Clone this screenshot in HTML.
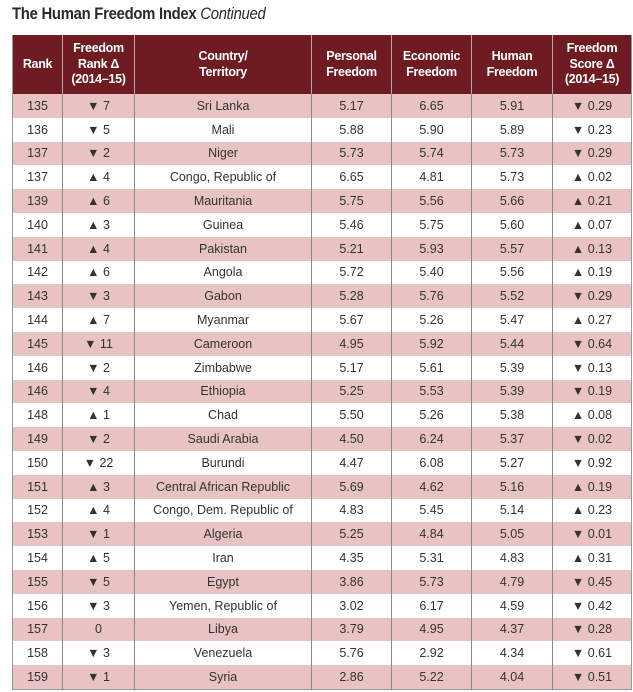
<!DOCTYPE html>
<html><head><style>
body{margin:0;background:#fff;width:633px;height:692px;overflow:hidden;font-family:"Liberation Sans",Arial,sans-serif;}
h1{position:absolute;left:12px;top:5px;margin:0;font-size:16.5px;font-weight:bold;color:#2a2a2a;letter-spacing:-0.3px;transform:scaleX(0.9);transform-origin:left}
h1 i{font-weight:normal}
table{position:absolute;left:12px;top:35px;border-collapse:collapse;table-layout:fixed;width:619px;font-size:12.5px;color:#333}
th{background:#6e1c22;color:#fff;font-weight:bold;height:59px;padding:0;font-size:12.5px;line-height:15.5px;border-left:1px solid #c9a0a0;letter-spacing:-0.3px}
th:first-child{border-left:none}
td{height:23.8px;padding:0;text-align:center;border-left:1px solid #888;}
td:first-child{border-left:none}
td small{font-size:10px}
tr:nth-child(even) td{background:#e9c3c1}
tr:nth-child(odd) td{background:#fff}
table{border:1px solid #999;border-top:none}
</style></head><body>
<h1>The Human Freedom Index <i>Continued</i></h1>
<table>
<colgroup><col style="width:50px"><col style="width:72px"><col style="width:177px"><col style="width:80px"><col style="width:80px"><col style="width:81px"><col style="width:79px"></colgroup>
<tr><th>Rank</th><th>Freedom<br>Rank Δ<br>(2014–15)</th><th>Country/<br>Territory</th><th>Personal<br>Freedom</th><th>Economic<br>Freedom</th><th>Human<br>Freedom</th><th>Freedom<br>Score Δ<br>(2014–15)</th></tr>
<tr><td>135</td><td>▼ 7</td><td>Sri Lanka</td><td>5.17</td><td>6.65</td><td>5.91</td><td>▼ 0.29</td></tr>
<tr><td>136</td><td>▼ 5</td><td>Mali</td><td>5.88</td><td>5.90</td><td>5.89</td><td>▼ 0.23</td></tr>
<tr><td>137</td><td>▼ 2</td><td>Niger</td><td>5.73</td><td>5.74</td><td>5.73</td><td>▼ 0.29</td></tr>
<tr><td>137</td><td>▲ 4</td><td>Congo, Republic of</td><td>6.65</td><td>4.81</td><td>5.73</td><td>▲ 0.02</td></tr>
<tr><td>139</td><td>▲ 6</td><td>Mauritania</td><td>5.75</td><td>5.56</td><td>5.66</td><td>▲ 0.21</td></tr>
<tr><td>140</td><td>▲ 3</td><td>Guinea</td><td>5.46</td><td>5.75</td><td>5.60</td><td>▲ 0.07</td></tr>
<tr><td>141</td><td>▲ 4</td><td>Pakistan</td><td>5.21</td><td>5.93</td><td>5.57</td><td>▲ 0.13</td></tr>
<tr><td>142</td><td>▲ 6</td><td>Angola</td><td>5.72</td><td>5.40</td><td>5.56</td><td>▲ 0.19</td></tr>
<tr><td>143</td><td>▼ 3</td><td>Gabon</td><td>5.28</td><td>5.76</td><td>5.52</td><td>▼ 0.29</td></tr>
<tr><td>144</td><td>▲ 7</td><td>Myanmar</td><td>5.67</td><td>5.26</td><td>5.47</td><td>▲ 0.27</td></tr>
<tr><td>145</td><td>▼ 11</td><td>Cameroon</td><td>4.95</td><td>5.92</td><td>5.44</td><td>▼ 0.64</td></tr>
<tr><td>146</td><td>▼ 2</td><td>Zimbabwe</td><td>5.17</td><td>5.61</td><td>5.39</td><td>▼ 0.13</td></tr>
<tr><td>146</td><td>▼ 4</td><td>Ethiopia</td><td>5.25</td><td>5.53</td><td>5.39</td><td>▼ 0.19</td></tr>
<tr><td>148</td><td>▲ 1</td><td>Chad</td><td>5.50</td><td>5.26</td><td>5.38</td><td>▲ 0.08</td></tr>
<tr><td>149</td><td>▼ 2</td><td>Saudi Arabia</td><td>4.50</td><td>6.24</td><td>5.37</td><td>▼ 0.02</td></tr>
<tr><td>150</td><td>▼ 22</td><td>Burundi</td><td>4.47</td><td>6.08</td><td>5.27</td><td>▼ 0.92</td></tr>
<tr><td>151</td><td>▲ 3</td><td>Central African Republic</td><td>5.69</td><td>4.62</td><td>5.16</td><td>▲ 0.19</td></tr>
<tr><td>152</td><td>▲ 4</td><td>Congo, Dem. Republic of</td><td>4.83</td><td>5.45</td><td>5.14</td><td>▲ 0.23</td></tr>
<tr><td>153</td><td>▼ 1</td><td>Algeria</td><td>5.25</td><td>4.84</td><td>5.05</td><td>▼ 0.01</td></tr>
<tr><td>154</td><td>▲ 5</td><td>Iran</td><td>4.35</td><td>5.31</td><td>4.83</td><td>▲ 0.31</td></tr>
<tr><td>155</td><td>▼ 5</td><td>Egypt</td><td>3.86</td><td>5.73</td><td>4.79</td><td>▼ 0.45</td></tr>
<tr><td>156</td><td>▼ 3</td><td>Yemen, Republic of</td><td>3.02</td><td>6.17</td><td>4.59</td><td>▼ 0.42</td></tr>
<tr><td>157</td><td>0</td><td>Libya</td><td>3.79</td><td>4.95</td><td>4.37</td><td>▼ 0.28</td></tr>
<tr><td>158</td><td>▼ 3</td><td>Venezuela</td><td>5.76</td><td>2.92</td><td>4.34</td><td>▼ 0.61</td></tr>
<tr><td>159</td><td>▼ 1</td><td>Syria</td><td>2.86</td><td>5.22</td><td>4.04</td><td>▼ 0.51</td></tr>
</table>
</body></html>
